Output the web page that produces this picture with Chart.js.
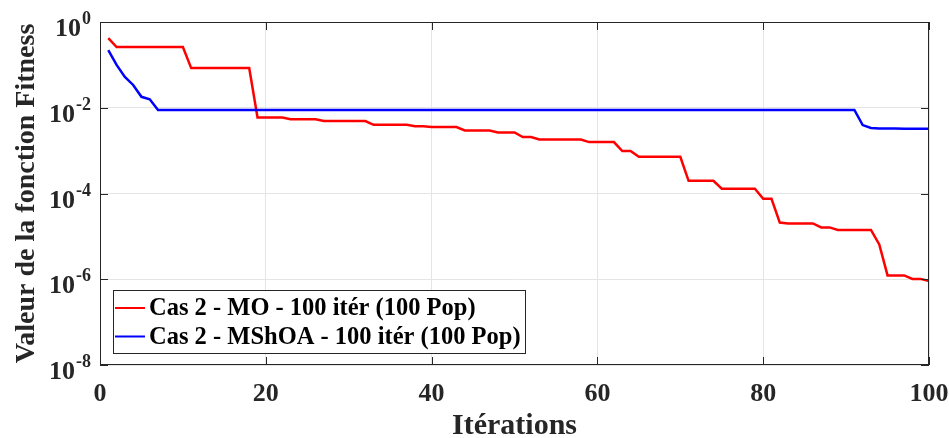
<!DOCTYPE html>
<html>
<head>
<meta charset="utf-8">
<script src="https://cdn.jsdelivr.net/npm/chart.js@4.4.1/dist/chart.umd.min.js"></script>
<style>
  html, body { margin: 0; padding: 0; background: #fff; }
  #chart { display: block; }
</style>
</head>
<body>
<canvas id="chart" width="949" height="438"></canvas>
<script>
//iteraciones
const iterations = [
  1, 2, 3, 4, 5, 6, 7, 8, 9, 10, 11, 12, 13, 14, 15, 16, 17, 18, 19, 20,
  21, 22, 23, 24, 25, 26, 27, 28, 29, 30, 31, 32, 33, 34, 35, 36, 37, 38, 39, 40,
  41, 42, 43, 44, 45, 46, 47, 48, 49, 50, 51, 52, 53, 54, 55, 56, 57, 58, 59, 60,
  61, 62, 63, 64, 65, 66, 67, 68, 69, 70, 71, 72, 73, 74, 75, 76, 77, 78, 79, 80,
  81, 82, 83, 84, 85, 86, 87, 88, 89, 90, 91, 92, 93, 94, 95, 96, 97, 98, 99, 100
];

//Cas 2 - MO
const fitnessMO = [
  0.42, 0.26, 0.26, 0.26, 0.26, 0.26, 0.26, 0.26, 0.26, 0.26,
  0.084, 0.084, 0.084, 0.084, 0.084, 0.084, 0.084, 0.084, 0.0059, 0.0059,
  0.0059, 0.0059, 0.0054, 0.0054, 0.0054, 0.0054, 0.0049, 0.0049, 0.0049, 0.0049,
  0.0049, 0.0049, 0.0040, 0.0040, 0.0040, 0.0040, 0.0040, 0.0037, 0.0037, 0.00355,
  0.00355, 0.00355, 0.00355, 0.00295, 0.00295, 0.00295, 0.00295, 0.00266, 0.00266, 0.00266,
  0.00207, 0.00207, 0.00182, 0.00182, 0.00182, 0.00182, 0.00182, 0.00182, 0.00158, 0.00158,
  0.00158, 0.00158, 0.00098, 0.00098, 0.00072, 0.00072, 0.00072, 0.00072, 0.00072, 0.00072,
  0.000197, 0.000197, 0.000197, 0.000197, 0.000129, 0.000129, 0.000129, 0.000129, 0.000129, 0.000075,
  0.000075, 0.000021, 0.000020, 0.000020, 0.000020, 0.000020, 0.0000162, 0.0000162, 0.0000141, 0.0000141,
  0.0000141, 0.0000141, 0.0000141, 0.0000065, 0.00000123, 0.00000123, 0.00000123, 0.00000102, 0.00000102, 0.00000091
];

//Cas 2 - MShOA
const fitnessMShOA = [
  0.222, 0.1, 0.0525, 0.034, 0.018, 0.0158, 0.0089, 0.0089, 0.0089, 0.0089,
  0.0089, 0.0089, 0.0089, 0.0089, 0.0089, 0.0089, 0.0089, 0.0089, 0.0089, 0.0089,
  0.0089, 0.0089, 0.0089, 0.0089, 0.0089, 0.0089, 0.0089, 0.0089, 0.0089, 0.0089,
  0.0089, 0.0089, 0.0089, 0.0089, 0.0089, 0.0089, 0.0089, 0.0089, 0.0089, 0.0089,
  0.0089, 0.0089, 0.0089, 0.0089, 0.0089, 0.0089, 0.0089, 0.0089, 0.0089, 0.0089,
  0.0089, 0.0089, 0.0089, 0.0089, 0.0089, 0.0089, 0.0089, 0.0089, 0.0089, 0.0089,
  0.0089, 0.0089, 0.0089, 0.0089, 0.0089, 0.0089, 0.0089, 0.0089, 0.0089, 0.0089,
  0.0089, 0.0089, 0.0089, 0.0089, 0.0089, 0.0089, 0.0089, 0.0089, 0.0089, 0.0089,
  0.0089, 0.0089, 0.0089, 0.0089, 0.0089, 0.0089, 0.0089, 0.0089, 0.0089, 0.0089,
  0.0089, 0.00394, 0.00339, 0.00328, 0.00328, 0.00327, 0.00325, 0.00324, 0.00324, 0.00324
];

//ticks
const xTicks = [0, 20, 40, 60, 80, 100];
const yExponents = [0, -2, -4, -6, -8];

const seriesLabels = [
  'Cas 2 - MO - 100 itér (100 Pop)',
  'Cas 2 - MShOA - 100 itér (100 Pop)'
];

const FONT = '"Liberation Serif", "Times New Roman", serif';
const AXIS = '#262626';

function points(values) {
  return iterations.map((it, i) => ({ x: it, y: values[i] }));
}

// caja, marcas, etiquetas de y y leyenda
const boxPlugin = {
  id: 'box',
  afterDraw(chart) {
    const { ctx, chartArea: a, scales } = chart;
    ctx.save();
    ctx.strokeStyle = AXIS;
    ctx.lineWidth = 1;
    ctx.strokeRect(a.left + 0.5, a.top + 0.5, a.right - a.left - 1, a.bottom - a.top - 1);
    ctx.beginPath();
    for (const v of xTicks) {
      const px = Math.round(scales.x.getPixelForValue(v)) + 0.5;
      ctx.moveTo(px, a.bottom); ctx.lineTo(px, a.bottom - 8);
      ctx.moveTo(px, a.top); ctx.lineTo(px, a.top + 8);
    }
    for (const e of yExponents) {
      const py = Math.round(scales.y.getPixelForValue(Math.pow(10, e))) + 0.5;
      ctx.moveTo(a.left, py); ctx.lineTo(a.left + 8, py);
      ctx.moveTo(a.right, py); ctx.lineTo(a.right - 8, py);
    }
    ctx.stroke();

    // 10^n
    ctx.fillStyle = AXIS;
    ctx.textBaseline = 'alphabetic';
    ctx.textAlign = 'right';
    for (const e of yExponents) {
      const py = scales.y.getPixelForValue(Math.pow(10, e));
      const exp = String(e);
      const right = a.left - 9;
      ctx.font = 'bold 18px ' + FONT;
      const ew = ctx.measureText(exp).width;
      ctx.fillText(exp, right, py + 2);
      ctx.font = 'bold 26px ' + FONT;
      ctx.fillText('10', right - ew - 1, py + 14);
    }

    // leyenda
    const lx = 113, ly = 290, lw = 412, lh = 63;
    ctx.fillStyle = '#fff';
    ctx.fillRect(lx, ly, lw, lh);
    ctx.strokeStyle = AXIS;
    ctx.lineWidth = 1;
    ctx.strokeRect(lx + 0.5, ly + 0.5, lw, lh);
    ctx.font = 'bold 24.5px ' + FONT;
    ctx.textAlign = 'left';
    ctx.textBaseline = 'middle';
    chart.data.datasets.forEach((ds, i) => {
      const cy = ly + 18 + i * 28.5;
      ctx.strokeStyle = ds.borderColor;
      ctx.lineWidth = 2;
      ctx.beginPath();
      ctx.moveTo(lx + 2, cy); ctx.lineTo(lx + 32, cy);
      ctx.stroke();
      ctx.fillStyle = '#000';
      ctx.fillText(ds.label, lx + 36, cy + 1);
    });
    ctx.restore();
  }
};

const ctx = document.getElementById('chart').getContext('2d');
const myChart = new Chart(ctx, {
  type: 'line',
  data: {
    datasets: [{
      label: seriesLabels[0],
      data: points(fitnessMO),
      borderColor: '#ff0000',
      borderWidth: 2.5,
      pointRadius: 0,
      order: 1
    }, {
      label: seriesLabels[1],
      data: points(fitnessMShOA),
      borderColor: '#0000ff',
      borderWidth: 2.5,
      pointRadius: 0,
      order: 0
    }]
  },
  options: {
    responsive: false,
    animation: false,
    devicePixelRatio: 1,
    layout: { padding: { top: 22, right: 20, left: 0, bottom: 0 } },
    plugins: {
      legend: { display: false },
      tooltip: { enabled: false }
    },
    scales: {
      x: {
        type: 'linear',
        min: 0,
        max: 100,
        afterBuildTicks: s => { s.ticks = xTicks.map(v => ({ value: v })); },
        afterFit: s => { s.height = 73; s.paddingLeft = 0; s.paddingRight = 0; },
        grid: { color: '#e5e5e5', drawTicks: false },
        border: { display: false },
        ticks: {
          padding: 14,
          color: AXIS,
          font: { family: FONT, size: 26, weight: 'bold' }
        },
        title: {
          display: true,
          text: 'Itérations',
          color: AXIS,
          padding: 0,
          font: { family: FONT, size: 30, weight: 'bold', lineHeight: 0.8 }
        }
      },
      y: {
        type: 'logarithmic',
        min: 1e-8,
        max: 1,
        afterBuildTicks: s => { s.ticks = yExponents.map(e => ({ value: Math.pow(10, e) })); },
        afterFit: s => { s.width = 100; s.paddingTop = 0; s.paddingBottom = 0; },
        grid: { color: '#e5e5e5', drawTicks: false },
        border: { display: false },
        ticks: { display: false },
        title: {
          display: true,
          text: 'Valeur de la fonction Fitness',
          color: AXIS,
          padding: { top: 10, bottom: 0 },
          font: { family: FONT, size: 28, weight: 'bold' }
        }
      }
    }
  },
  plugins: [boxPlugin]
});
</script>
</body>
</html>
